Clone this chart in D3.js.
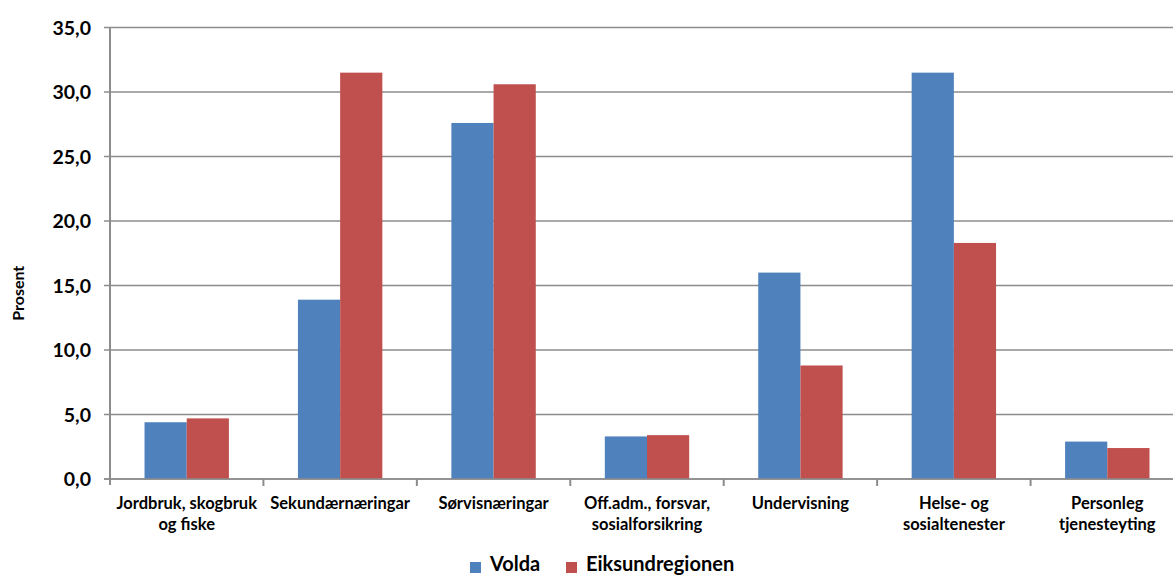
<!DOCTYPE html>
<html>
<head>
<meta charset="utf-8">
<script src="https://cdn.jsdelivr.net/npm/d3@7"></script>
<style>
  body { margin: 0; background: #fff; }
  svg { display: block; font-family: Lato, "Open Sans", sans-serif; }
</style>
</head>
<body>
<div id="chart"></div>
<script>
// Sysselsette etter næring, Volda vs Eiksundregionen (prosent)
const categories = [
  ["Jordbruk, skogbruk", "og fiske"],
  ["Sekundærnæringar"],
  ["Sørvisnæringar"],
  ["Off.adm., forsvar,", "sosialforsikring"],
  ["Undervisning"],
  ["Helse- og", "sosialtenester"],
  ["Personleg", "tjenesteyting"]
];
const seriesNames = ["Volda", "Eiksundregionen"];
const volda = [4.4, 13.9, 27.6, 3.3, 16.0, 31.5, 2.9];
const eiksund = [4.7, 31.5, 30.6, 3.4, 8.8, 18.3, 2.4];
const yTicks = [0, 5, 10, 15, 20, 25, 30, 35];
const colors = ["#4F81BD", "#C0504D"];

const width = 1173, height = 575;
const margin = { left: 110, top: 27.5, bottom: 96 };
const plotRight = 1184;   // plot area runs a little past the window edge

const svg = d3.select("#chart").append("svg")
  .attr("width", width)
  .attr("height", height);

const x = d3.scaleBand()
  .domain(d3.range(categories.length))
  .range([margin.left, plotRight])
  .paddingInner(0.45)
  .paddingOuter(0.225);

const xSub = d3.scaleBand()
  .domain([0, 1])
  .range([0, x.bandwidth()]);

const y = d3.scaleLinear()
  .domain([0, 35])
  .range([height - margin.bottom, margin.top]);

// gridlines
svg.append("g")
  .selectAll("line")
  .data(yTicks)
  .join("line")
  .attr("x1", margin.left - 6)
  .attr("x2", width)
  .attr("y1", d => y(d))
  .attr("y2", d => y(d))
  .attr("stroke", "#8c8c8c")
  .attr("stroke-width", 1.6);

// y labels
svg.append("g")
  .selectAll("text")
  .data(yTicks)
  .join("text")
  .attr("x", margin.left - 19)
  .attr("y", d => y(d))
  .attr("dy", "0.36em")
  .attr("text-anchor", "end")
  .style("font-size", "19.5px")
  .style("font-weight", "bold")
  .text(d => d.toFixed(1).replace(".", ","));

// y axis line
svg.append("line")
  .attr("x1", margin.left).attr("x2", margin.left)
  .attr("y1", y(35)).attr("y2", y(0) + 6)
  .attr("stroke", "#8c8c8c")
  .attr("stroke-width", 2);

// category ticks
const step = x.step();
svg.append("g")
  .selectAll("line")
  .data(d3.range(categories.length))
  .join("line")
  .attr("x1", d => margin.left + (d + 1) * step)
  .attr("x2", d => margin.left + (d + 1) * step)
  .attr("y1", y(0))
  .attr("y2", y(0) + 7)
  .attr("stroke", "#8c8c8c")
  .attr("stroke-width", 2);

// bars
const data = [volda, eiksund];
data.forEach((vals, s) => {
  svg.append("g")
    .selectAll("rect")
    .data(vals)
    .join("rect")
    .attr("x", (d, i) => x(i) + xSub(s))
    .attr("y", d => y(d))
    .attr("width", xSub.bandwidth())
    .attr("height", d => y(0) - y(d))
    .attr("fill", colors[s]);
});

// baseline over bars
svg.append("line")
  .attr("x1", margin.left - 6).attr("x2", width)
  .attr("y1", y(0)).attr("y2", y(0))
  .attr("stroke", "#8c8c8c")
  .attr("stroke-width", 1.6);

// category labels
const labels = svg.append("g")
  .selectAll("text")
  .data(categories)
  .join("text")
  .attr("x", (d, i) => x(i) + x.bandwidth() / 2)
  .attr("y", y(0) + 30)
  .attr("text-anchor", "middle")
  .style("font-size", "16.5px")
  .style("font-weight", "bold");
labels.selectAll("tspan")
  .data(d => d)
  .join("tspan")
  .attr("x", function () { return d3.select(this.parentNode).attr("x"); })
  .attr("dy", (d, i) => i === 0 ? 0 : 21)
  .text(d => d);

// y title
svg.append("text")
  .attr("transform", `translate(24, ${y(17.5) + 40}) rotate(-90)`)
  .attr("text-anchor", "middle")
  .style("font-size", "16px")
  .style("font-weight", "bold")
  .text("Prosent");

// legend
const legendX = [470, 566];
const legend = svg.append("g")
  .selectAll("g")
  .data(seriesNames)
  .join("g")
  .attr("transform", (d, i) => `translate(${legendX[i]}, 568)`);
legend.append("rect")
  .attr("x", 0).attr("y", -6)
  .attr("width", 11).attr("height", 11)
  .attr("fill", (d, i) => colors[i]);
legend.append("text")
  .attr("x", 20)
  .attr("y", 3)
  .style("font-size", "20px")
  .style("font-weight", "bold")
  .text(d => d);
</script>
</body>
</html>
